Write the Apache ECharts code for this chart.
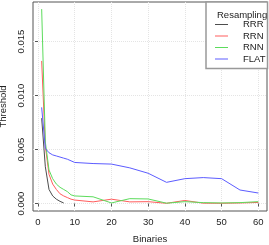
<!DOCTYPE html>
<html><head><meta charset="utf-8">
<script src="https://cdn.jsdelivr.net/npm/echarts@6/dist/echarts.min.js"></script>
<style>html,body{margin:0;padding:0;background:#fff}#c{width:269px;height:245px}</style>
</head><body><div id="c"></div>
<script>
const seriesNames = ['RRR', 'RRN', 'RNN', 'FLAT'];
const binsShort = [1, 2, 3, 4, 5, 6, 7];
const bins = [1, 2, 3, 4, 5, 6, 7, 8, 9, 10, 15, 20, 25, 30, 35, 40, 45, 50, 55, 60];
const rrr = [0.0079, 0.0034, 0.0013, 0.0007, 0.0004, 0.0002, 0.00005];
const rrn = [0.0132, 0.0053, 0.0027, 0.0018, 0.0013, 0.0009, 0.0007, 0.00055, 0.0004, 0.00032, 0.00015, 0.0004, 0.00015, 0.00017, 0.00002, 0.00028, 0.00003, 0.00002, 0.00005, 0.0001];
const rnn = [0.0180, 0.0057, 0.0031, 0.0023, 0.0018, 0.0015, 0.0013, 0.0011, 0.0008, 0.0007, 0.00062, 0.00005, 0.00045, 0.00042, 0.00003, 0.00017, 0.00008, 0.00005, 0.00008, 0.00017];
const flat = [0.0089, 0.0051, 0.0047, 0.0045, 0.0044, 0.0043, 0.0042, 0.0041, 0.00395, 0.0038, 0.0037, 0.00365, 0.0033, 0.0028, 0.00196, 0.0023, 0.0024, 0.0023, 0.00125, 0.00097];
const xTicks = [0, 10, 20, 30, 40, 50, 60];
const yTicks = [0, 0.005, 0.010, 0.015];
const colors = ['#4d4d4d', '#ff5c5c', '#5cdc5c', '#5c5cff'];

const zip = (xs, ys) => xs.map((x, i) => [x, ys[i]]);
const dataSets = [zip(binsShort, rrr), zip(bins, rrn), zip(bins, rnn), zip(bins, flat)];

const font = 'Liberation Sans, Arial, sans-serif';
const chart = echarts.init(document.getElementById('c'), null, {renderer: 'canvas'});
chart.setOption({
  animation: false,
  backgroundColor: '#fff',
  textStyle: {fontFamily: font},
  grid: {left: 33, right: 2, top: 2, bottom: 34, show: true, borderColor: '#555', borderWidth: 1,
    containLabel: false, outerBoundsMode: 'none'},
  title: {text: 'Resampling', left: 212, top: 5, textStyle: {fontSize: 9.5, fontWeight: 'normal', color: '#222', fontFamily: font}},
  legend: {
    data: seriesNames, orient: 'vertical', left: 206, top: 2,
    padding: [17, 2, 4, 9], itemWidth: 13, itemHeight: 11, itemGap: 0.5,
    borderColor: '#999', borderWidth: 1.5, backgroundColor: '#fff',
    textStyle: {fontSize: 9.5, color: '#222', padding: [0, 0, 0, 10], lineHeight: 11, fontFamily: font},
    icon: 'path://M0,5L13,5L13,6L0,6Z'
  },
  xAxis: {
    type: 'value', min: -1.36, max: 62.36,
    name: 'Binaries', nameLocation: 'middle', nameGap: 23,
    nameTextStyle: {fontSize: 9.5, color: '#222', fontFamily: font},
    axisLine: {show: false},
    axisTick: {show: true, length: 3, customValues: xTicks, lineStyle: {color: '#555'}},
    axisLabel: {customValues: xTicks, fontSize: 9.5, color: '#222', margin: 6, fontFamily: font},
    splitLine: {show: true, customValues: xTicks, lineStyle: {color: '#e4e4e4', type: 'dotted'}}
  },
  yAxis: {
    type: 'value', min: -0.000694, max: 0.018657,
    name: 'Threshold', nameLocation: 'middle', nameGap: 23, nameRotate: 90,
    nameTextStyle: {fontSize: 9.5, color: '#222', fontFamily: font},
    axisLine: {show: false},
    axisTick: {show: true, length: 3, customValues: yTicks, lineStyle: {color: '#555'}},
    axisLabel: {customValues: yTicks, rotate: 90, fontSize: 9.5, color: '#222', margin: 7, fontFamily: font,
      formatter: v => v.toFixed(3)},
    splitLine: {show: true, customValues: yTicks, lineStyle: {color: '#e4e4e4', type: 'dotted'}}
  },
  series: seriesNames.map((n, i) => ({
    name: n, type: 'line', data: dataSets[i], showSymbol: false, symbol: 'none',
    lineStyle: {color: colors[i], width: 1}, itemStyle: {color: colors[i]}
  }))
});
</script></body></html>
